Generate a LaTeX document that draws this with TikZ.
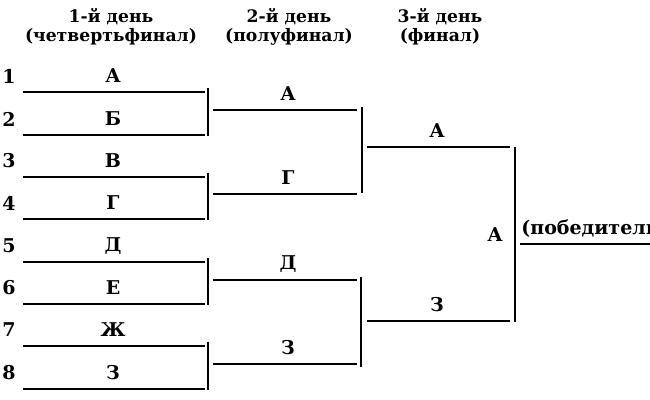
\documentclass[tikz,border=0pt]{standalone}
\usepackage{fontspec}
\setmainfont{DejaVu Serif}
\usetikzlibrary{calc, positioning}
\tikzstyle{team} = [font=\bfseries\fontsize{9.5}{11}\selectfont, inner sep=0pt]
\tikzstyle{head} = [font=\bfseries\fontsize{8.6}{9.6}\selectfont, align=center, inner sep=0pt]
\tikzstyle{bar} = [draw, line width=0.85pt]

\begin{document}
\begin{tikzpicture}[x=0.5pt, y=-0.5pt]
\useasboundingbox (0,0) rectangle (650,400);
% headers
\node [head] (day1) at (111,27) {1-й день\\(четвертьфинал)};
\node [head] (day2) at (289,27) {2-й день\\(полуфинал)};
\node [head] (day3) at (440,27) {3-й день\\(финал)};
% quarter-finals
\foreach \n/\t/\y in {1/А/92, 2/Б/135, 3/В/177, 4/Г/219, 5/Д/262, 6/Е/304, 7/Ж/346, 8/З/389} {
  \node [team] (num\n) at (9,\y-16) {\n};
  \node [team] (q\n) at (113,\y-16) {\t};
  \coordinate (q\n l) at (23,\y);
  \coordinate (q\n r) at (205,\y);
  \path [bar] (q\n l) -- (q\n r);
}
\foreach \a/\b in {1/2, 3/4, 5/6, 7/8} {
  \path [bar] ($(q\a r)+(3,-4)$) -- ($(q\b r)+(3,1)$);
}
% semi-finals
\foreach \n/\t/\y in {1/А/110, 2/Г/194, 3/Д/280, 4/З/364} {
  \node [team] (s\n) at (288,\y-16) {\t};
  \coordinate (s\n l) at (213,\y);
  \coordinate (s\n r) at (357,\y);
  \path [bar] (s\n l) -- (s\n r);
}
\path [bar] ($(s1r)+(5,-3)$) -- ($(s2r)+(5,-1)$);
\path [bar] ($(s3r)+(4,-3)$) -- ($(s4r)+(4,3)$);
% final
\foreach \n/\t/\y in {1/А/147, 2/З/321} {
  \node [team] (f\n) at (437,\y-16) {\t};
  \coordinate (f\n l) at (367,\y);
  \coordinate (f\n r) at (510,\y);
  \path [bar] (f\n l) -- (f\n r);
}
\path [bar] ($(f1r)+(5,0)$) -- ($(f2r)+(5,1)$);
% winner
\coordinate (wl) at (520,244);
\coordinate (wr) at (650,244);
\path [bar] (wl) -- (wr);
\node [team] (champ) at (495,235) {А};
\node [team, anchor=south west] (winner) at (521,238) {(победитель)};
\end{tikzpicture}
\end{document}
